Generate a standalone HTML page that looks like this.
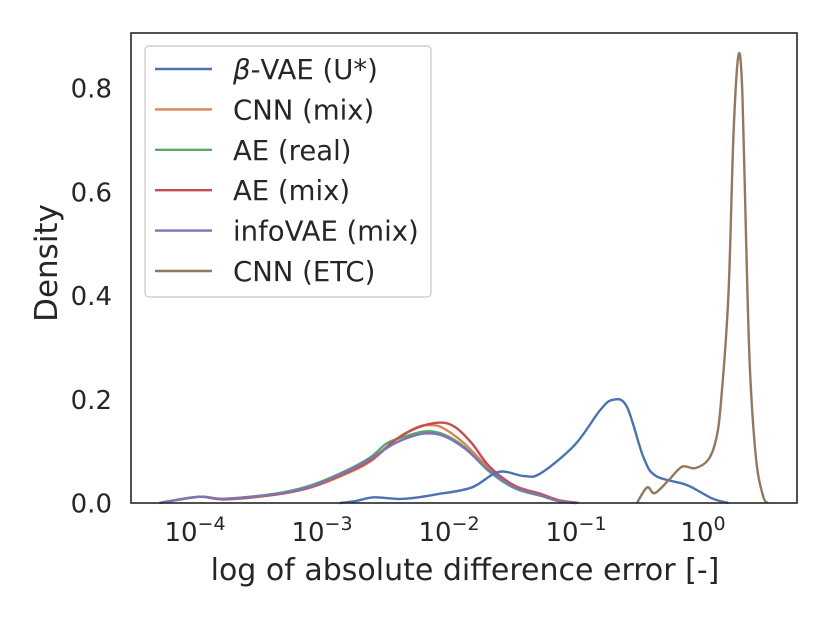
<!DOCTYPE html>
<html><head><meta charset="utf-8"><style>
body{margin:0;background:#fff;}
svg{font-family:"DejaVu Sans","Liberation Sans",sans-serif;}
</style></head><body>
<svg id="chart" width="830" height="623">
<rect x="0" y="0" width="830" height="623" fill="#fff"/>
<g id="curves"></g>
<rect x="131" y="33" width="666" height="470" fill="none" stroke="#262626" stroke-width="1.6"/>
<g id="axes"></g>
<text x="465" y="580" font-size="30" text-anchor="middle" fill="#262626">log of absolute difference error [-]</text>
<text transform="translate(57,263) rotate(-90)" font-size="31" text-anchor="middle" fill="#262626">Density</text>
<g id="legend">
<rect x="145" y="46" width="286" height="251" rx="4" fill="#fff" stroke="#d0d0d0" stroke-width="1.4"/>
</g>
</svg>
<script>
const labels=["β-VAE (U*)","CNN (mix)","AE (real)","AE (mix)","infoVAE (mix)","CNN (ETC)"];
const colors=["#4c72b0","#dd8452","#55a868","#c44e52","#8172b3","#937860"];
const yTicks=[0,0.2,0.4,0.6,0.8];
const yTickLabels=["0.0","0.2","0.4","0.6","0.8"];
const xTicks=[-4,-3,-2,-1,0];
const logX0=[-2.86,-2.73,-2.59,-2.36,-2.09,-1.82,-1.61,-1.41,-1.28,-1.01,-0.81,-0.71,-0.60,-0.47,-0.37,-0.13,0.07,0.2];
const dens0=[0,0.004,0.011,0.008,0.017,0.030,0.060,0.052,0.057,0.112,0.179,0.199,0.186,0.089,0.052,0.035,0.009,0];
const logX1=[-4.28,-3.97,-3.77,-3.37,-3.10,-2.83,-2.62,-2.42,-2.25,-2.15,-2.05,-1.88,-1.68,-1.48,-1.28,-1.14,-0.98];
const dens1=[0,0.012,0.007,0.016,0.029,0.054,0.080,0.122,0.146,0.150,0.145,0.115,0.066,0.033,0.018,0.006,0];
const logX2=[-4.28,-3.97,-3.77,-3.37,-3.10,-2.83,-2.62,-2.49,-2.35,-2.19,-2.05,-1.88,-1.68,-1.48,-1.28,-1.14,-1.0];
const dens2=[0,0.012,0.008,0.018,0.033,0.060,0.088,0.115,0.128,0.138,0.133,0.108,0.060,0.028,0.014,0.004,0];
const logX3=[-4.28,-3.97,-3.77,-3.37,-3.10,-2.83,-2.62,-2.42,-2.25,-2.07,-1.95,-1.82,-1.68,-1.48,-1.28,-1.14,-0.98];
const dens3=[0,0.012,0.007,0.016,0.030,0.056,0.082,0.122,0.145,0.155,0.146,0.115,0.070,0.033,0.017,0.005,0];
const logX4=[-4.28,-3.97,-3.77,-3.37,-3.10,-2.83,-2.62,-2.45,-2.32,-2.19,-2.05,-1.88,-1.68,-1.48,-1.28,-1.14,-1.0];
const dens4=[0,0.012,0.008,0.017,0.031,0.058,0.085,0.112,0.126,0.134,0.130,0.106,0.062,0.030,0.015,0.004,0];
const logX5=[-0.52,-0.44,-0.38,-0.27,-0.165,-0.065,0.04,0.10,0.14,0.20,0.24,0.28,0.31,0.34,0.37,0.42,0.475,0.51];
const dens5=[0,0.030,0.019,0.044,0.070,0.067,0.083,0.12,0.19,0.40,0.71,0.864,0.79,0.50,0.256,0.08,0.012,0];
const seriesX=[logX0,logX1,logX2,logX3,logX4,logX5];
const seriesY=[dens0,dens1,dens2,dens3,dens4,dens5];
const NS="http://www.w3.org/2000/svg";
function xs(l){return 703+l*127;}
function ys(d){return 503-d*518.75;}
function path(px,py){let d="M"+px[0]+","+py[0];for(let i=0;i<px.length-1;i++){const x0=px[Math.max(i-1,0)],y0=py[Math.max(i-1,0)],x3=px[Math.min(i+2,px.length-1)],y3=py[Math.min(i+2,px.length-1)];d+=" C"+(px[i]+(px[i+1]-x0)/6)+","+(py[i]+(py[i+1]-y0)/6)+" "+(px[i+1]-(x3-px[i])/6)+","+(py[i+1]-(y3-py[i])/6)+" "+px[i+1]+","+py[i+1];}return d;}
const cg=document.getElementById("curves");
const order=[1,2,3,4,0,5];
order.forEach(k=>{const p=document.createElementNS(NS,"path");
p.setAttribute("d",path(seriesX[k].map(xs),seriesY[k].map(v=>Math.min(503,ys(v)))));
p.setAttribute("fill","none");p.setAttribute("stroke",colors[k]);p.setAttribute("stroke-width","2.4");


cg.appendChild(p);});
const ax=document.getElementById("axes");
yTicks.forEach((v,i)=>{const t=document.createElementNS(NS,"text");t.setAttribute("x",112);t.setAttribute("y",ys(v)+9.5);t.setAttribute("text-anchor","end");t.setAttribute("font-size","26");t.setAttribute("fill","#262626");t.textContent=yTickLabels[i];


ax.appendChild(t);});
xTicks.forEach(v=>{const t=document.createElementNS(NS,"text");t.setAttribute("x",xs(v));t.setAttribute("y",541);t.setAttribute("text-anchor","middle");t.setAttribute("font-size","26");t.setAttribute("fill","#262626");
t.innerHTML='10<tspan dy="-11" font-size="19">'+(v<0?'\u2212'+(-v):v)+'</tspan>';


ax.appendChild(t);});
const lg=document.getElementById("legend");
labels.forEach((s,i)=>{const y=69+i*40.4;const l=document.createElementNS(NS,"line");l.setAttribute("x1",155);l.setAttribute("x2",212);l.setAttribute("y1",y);l.setAttribute("y2",y);l.setAttribute("stroke",colors[i]);l.setAttribute("stroke-width","2.4");


lg.appendChild(l);
const t=document.createElementNS(NS,"text");t.setAttribute("x",233);t.setAttribute("y",y+10);t.setAttribute("font-size","27.5");t.setAttribute("fill","#262626");
if(i===0){t.innerHTML='<tspan font-style="italic">β</tspan>-VAE (U*)';}else{t.textContent=s;}


lg.appendChild(t);});
</script>
</body></html>
